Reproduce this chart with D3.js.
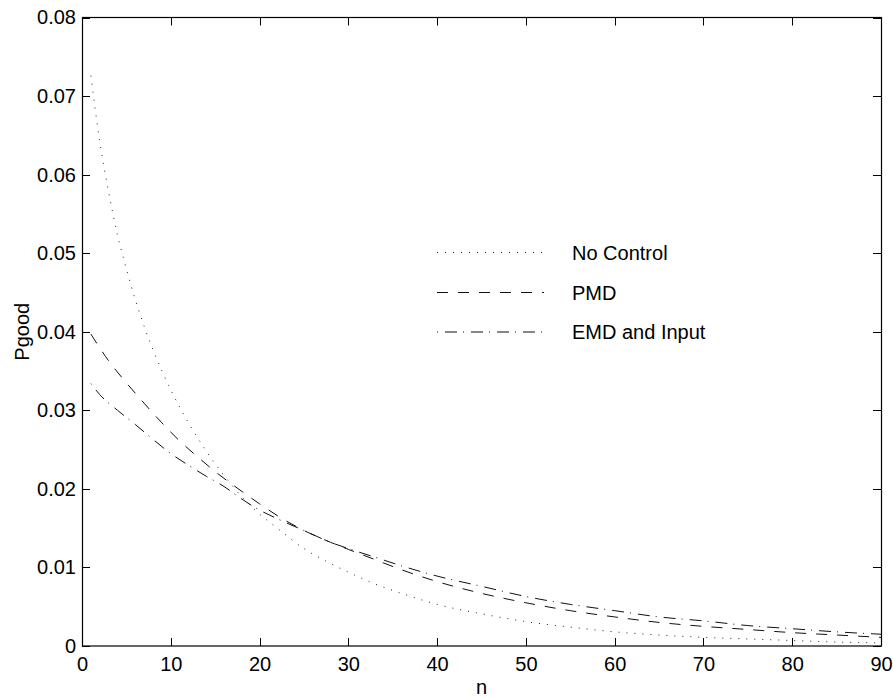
<!DOCTYPE html>
<html>
<head>
<meta charset="utf-8">
<script src="https://cdn.jsdelivr.net/npm/d3@7"></script>
<style>
  html, body { margin: 0; padding: 0; background: #fff; }
  svg { display: block; font-family: "Liberation Sans", Arial, Helvetica, sans-serif; }
</style>
</head>
<body>
<svg id="chart" width="893" height="698"></svg>
<script>
// Probability of a good outcome versus n for three control strategies.
const noControlN = [1, 2, 3, 4, 5, 6, 7, 8, 10, 12, 14, 16, 18, 20, 22, 25, 28, 30, 33, 36, 40, 45, 50, 55, 60, 65, 70, 75, 80, 85, 90];
const noControl  = [0.0726, 0.0642, 0.0578, 0.0523, 0.0480, 0.0441, 0.0407, 0.0377, 0.0326, 0.0284, 0.0248, 0.0217, 0.0190, 0.0168, 0.0150, 0.0124, 0.0105, 0.0094, 0.0079, 0.0067, 0.0053, 0.0041, 0.0031, 0.0024, 0.0018, 0.0014, 0.0011, 0.0009, 0.0007, 0.0005, 0.0004];

const pmdN = [1, 3, 5, 7, 9, 11, 13, 15, 17, 20, 22, 25, 28, 30, 33, 36, 40, 45, 50, 55, 60, 65, 70, 75, 80, 85, 90];
const pmd  = [0.0397, 0.0363, 0.0335, 0.0309, 0.0284, 0.0261, 0.0241, 0.0222, 0.0205, 0.0181, 0.0166, 0.0147, 0.0132, 0.0123, 0.0110, 0.0097, 0.0082, 0.0067, 0.0055, 0.0045, 0.0037, 0.0030, 0.0025, 0.0021, 0.0017, 0.0014, 0.0011];

const emdN = [1, 2, 4, 6, 8, 10, 12, 14, 16, 18, 20, 22, 25, 28, 30, 33, 36, 40, 45, 50, 55, 60, 65, 70, 75, 80, 85, 90];
const emd  = [0.0334, 0.0320, 0.0300, 0.0282, 0.0263, 0.0245, 0.0230, 0.0216, 0.0203, 0.0187, 0.0173, 0.0162, 0.0147, 0.0132, 0.0124, 0.0113, 0.0102, 0.0089, 0.0076, 0.0063, 0.0053, 0.0045, 0.0037, 0.0032, 0.0026, 0.0022, 0.0018, 0.0015];

const seriesNames = ["No Control", "PMD", "EMD and Input"];
const xTicks = [0, 10, 20, 30, 40, 50, 60, 70, 80, 90];
const yTicks = [0, 0.01, 0.02, 0.03, 0.04, 0.05, 0.06, 0.07, 0.08];
const xLabel = "n";
const yLabel = "Pgood";

const svg = d3.select("#chart");
const box = { left: 82, right: 881, top: 17.5, bottom: 646 };

const x = d3.scaleLinear().domain([0, 90]).range([box.left, box.right]);
const y = d3.scaleLinear().domain([0, 0.08]).range([box.bottom, box.top]);

const series = [
  { name: seriesNames[0], n: noControlN, v: noControl, dash: "1,7",       color: "#222" },
  { name: seriesNames[1], n: pmdN,       v: pmd,       dash: "11,10",     color: "#111" },
  { name: seriesNames[2], n: emdN,       v: emd,       dash: "1,7,12,6",  color: "#111" }
];

// Curves
const line = d3.line()
  .x(d => x(d[0]))
  .y(d => y(d[1]))
  .curve(d3.curveMonotoneX);

const plot = svg.append("g");
series.forEach(s => {
  plot.append("path")
    .datum(s.n.map((n, i) => [n, s.v[i]]))
    .attr("d", line)
    .attr("fill", "none")
    .attr("stroke", s.color)
    .attr("stroke-width", 1)
    .attr("stroke-dasharray", s.dash);
});

// Axes: MATLAB-style box with inward ticks on all four sides
const tickLen = 8;
const fontSize = 20;

const axisBottom = d3.axisBottom(x).tickValues(xTicks).tickSize(0).tickPadding(11).tickFormat(d3.format("d"));
const axisLeft = d3.axisLeft(y).tickValues(yTicks).tickSize(0).tickPadding(6).tickFormat(d => d === 0 ? "0" : d3.format(".2f")(d));

const gx = svg.append("g").attr("transform", `translate(0,${box.bottom})`).call(axisBottom);
gx.select(".domain").remove();
gx.selectAll("text").attr("font-size", fontSize).attr("font-family", "Liberation Sans, Arial, sans-serif").attr("fill", "#000");

const gy = svg.append("g").attr("transform", `translate(${box.left},0)`).call(axisLeft);
gy.select(".domain").remove();
gy.selectAll("text").attr("font-size", fontSize).attr("font-family", "Liberation Sans, Arial, sans-serif").attr("fill", "#000");

const ticks = svg.append("g").attr("stroke", "#000").attr("stroke-width", 1);
xTicks.forEach(t => {
  const px = Math.round(x(t)) + 0.5;
  ticks.append("line").attr("x1", px).attr("x2", px).attr("y1", box.bottom).attr("y2", box.bottom - tickLen);
  ticks.append("line").attr("x1", px).attr("x2", px).attr("y1", box.top).attr("y2", box.top + tickLen);
});
yTicks.forEach(t => {
  const py = Math.round(y(t)) + 0.5;
  ticks.append("line").attr("x1", box.left).attr("x2", box.left + tickLen).attr("y1", py).attr("y2", py);
  ticks.append("line").attr("x1", box.right).attr("x2", box.right - tickLen).attr("y1", py).attr("y2", py);
});

svg.append("rect")
  .attr("x", box.left + 0.5).attr("y", box.top)
  .attr("width", box.right - box.left).attr("height", box.bottom - box.top)
  .attr("fill", "none").attr("stroke", "#000").attr("stroke-width", 1.2);

// Axis titles
svg.append("text")
  .attr("x", (box.left + box.right) / 2).attr("y", 694)
  .attr("text-anchor", "middle").attr("font-size", fontSize).attr("fill", "#000")
  .text(xLabel);

svg.append("text")
  .attr("transform", `translate(28.5,${(box.top + box.bottom) / 2}) rotate(-90)`)
  .attr("text-anchor", "middle").attr("font-size", fontSize).attr("fill", "#000")
  .text(yLabel);

// Legend
const legend = svg.append("g");
const legendRows = [252.5, 292.5, 332];
series.forEach((s, i) => {
  const ly = legendRows[i];
  legend.append("line")
    .attr("x1", 437).attr("x2", 544).attr("y1", ly).attr("y2", ly)
    .attr("stroke", s.color).attr("stroke-width", 1).attr("stroke-dasharray", s.dash);
  legend.append("text")
    .attr("x", 572).attr("y", ly + 7)
    .attr("font-size", fontSize).attr("fill", "#000")
    .text(s.name);
});
</script>
</body>
</html>
